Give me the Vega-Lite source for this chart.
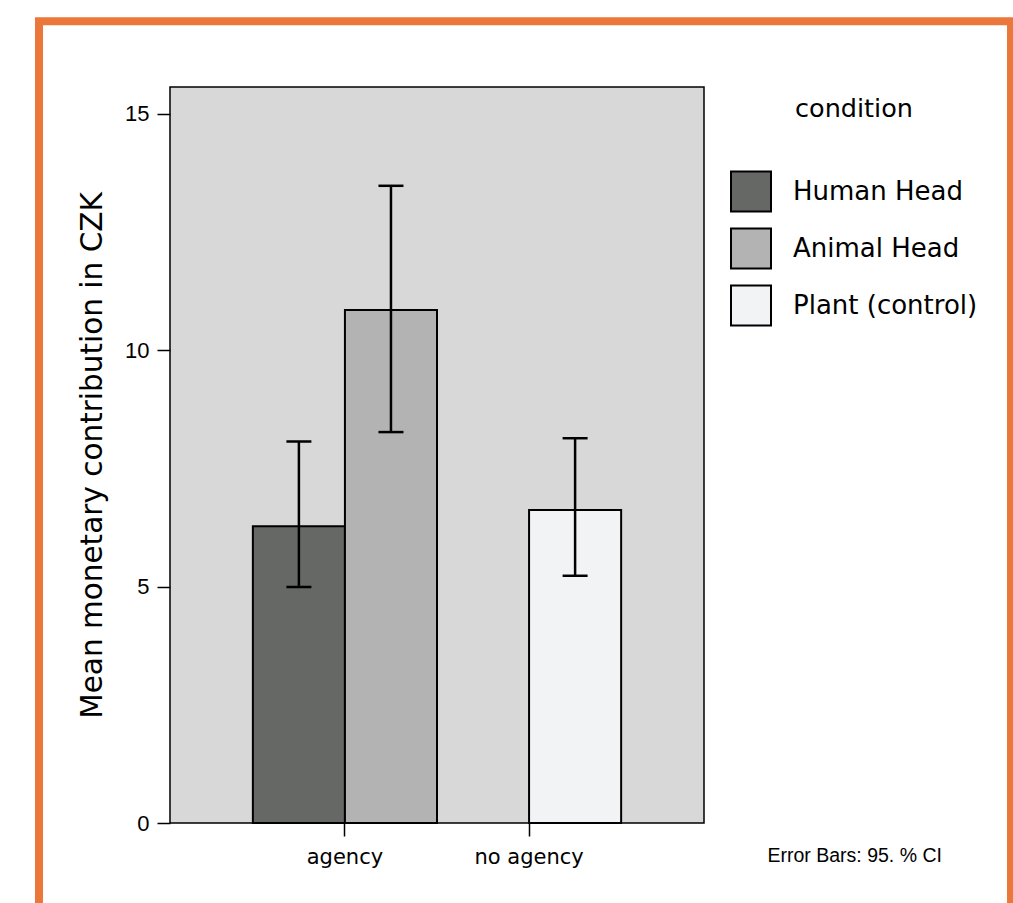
{
  "$schema": "https://vega.github.io/schema/vega-lite/v6.json",
  "width": 534,
  "height": 736,
  "autosize": {"type": "none"},
  "padding": {"left": 170, "top": 87, "right": 309, "bottom": 80},
  "background": "white",
  "config": {
    "view": {"fill": "#d8d8d8", "stroke": "black", "strokeWidth": 1.5},
    "axis": {"domain": false, "grid": false, "tickColor": "black", "tickWidth": 1.5, "tickSize": 13, "labelColor": "black", "titleColor": "black", "titleFontWeight": "normal"},
    "legend": {
      "orient": "right", "offset": 16, "padding": 10,
      "titleFont": "DejaVu Sans", "titleFontSize": 25.5, "titleFontWeight": "normal", "titleColor": "black",
      "titleAnchor": "middle", "titlePadding": 48, "titleLimit": 400,
      "labelFont": "DejaVu Sans", "labelFontSize": 26, "labelColor": "black", "labelOffset": 21, "labelLimit": 400,
      "symbolType": "square", "symbolSize": 1600, "symbolStrokeColor": "black", "symbolStrokeWidth": 2,
      "symbolOpacity": 1, "rowPadding": 9
    }
  },
  "layer": [
    {
      "data": {"values": [{"frame": "border"}]},
      "mark": {"type": "rect", "filled": false, "stroke": "#ec773a", "strokeWidth": 8, "clip": false},
      "encoding": {
        "x": {"datum": -0.2453, "type": "quantitative", "scale": {"domain": [0, 1], "nice": false, "zero": false}, "axis": null},
        "x2": {"datum": 1.5749},
        "y": {"datum": 16.96, "type": "quantitative", "scale": {"domain": [0, 15.57], "nice": false, "zero": false}, "axis": null},
        "y2": {"datum": -2.0}
      }
    },
    {
      "data": {"values": [
        {"agency": "agency", "condition": "Human Head", "mean": 6.28, "lo": 4.99, "hi": 8.07},
        {"agency": "agency", "condition": "Animal Head", "mean": 10.85, "lo": 8.27, "hi": 13.48},
        {"agency": "no agency", "condition": "Plant (control)", "mean": 6.62, "lo": 5.23, "hi": 8.14}
      ]},
      "encoding": {
        "x": {
          "field": "agency", "type": "nominal",
          "scale": {"domain": ["agency", "no agency"], "paddingInner": 0, "paddingOuter": 0.45},
          "axis": {
            "orient": "bottom", "labelFont": "DejaVu Sans", "labelFontSize": 21, "labelPadding": 10, "labelAngle": 0,
            "title": "Error Bars: 95. % CI", "titleFont": "Liberation Sans", "titleFontSize": 19.5,
            "titleAlign": "left", "titleAnchor": "start", "titleX": 597, "titleY": 38, "titleBaseline": "alphabetic"
          }
        },
        "y": {
          "field": "mean", "type": "quantitative",
          "scale": {"domain": [0, 15.57], "nice": false, "zero": false},
          "axis": {
            "orient": "left", "values": [0, 5, 10, 15], "labelFont": "Liberation Sans", "labelFontSize": 22, "labelPadding": 8,
            "title": "Mean monetary contribution in CZK", "titleFont": "DejaVu Sans", "titleFontSize": 29.5, "titlePadding": 17
          }
        }
      },
      "layer": [
        {
          "transform": [{"filter": "datum.agency == 'agency'"}],
          "encoding": {
            "xOffset": {"field": "condition", "type": "nominal", "scale": {"domain": ["Human Head", "Animal Head"], "paddingInner": 0, "paddingOuter": 0}}
          },
          "layer": [
            {
              "mark": {"type": "bar", "stroke": "black", "strokeWidth": 2},
              "encoding": {
                "color": {"field": "condition", "type": "nominal", "title": "condition",
                  "scale": {"domain": ["Human Head", "Animal Head", "Plant (control)"], "range": ["#666866", "#b3b3b3", "#f2f3f5"]}}
              }
            },
            {
              "mark": {"type": "rule", "color": "black", "strokeWidth": 2.5},
              "encoding": {"y": {"field": "lo", "type": "quantitative"}, "y2": {"field": "hi"}}
            },
            {
              "mark": {"type": "tick", "color": "black", "size": 25, "thickness": 2.5, "opacity": 1},
              "encoding": {"y": {"field": "lo", "type": "quantitative"}}
            },
            {
              "mark": {"type": "tick", "color": "black", "size": 25, "thickness": 2.5, "opacity": 1},
              "encoding": {"y": {"field": "hi", "type": "quantitative"}}
            }
          ]
        },
        {
          "transform": [{"filter": "datum.agency == 'no agency'"}],
          "encoding": {
            "xOffset": {"field": "condition", "type": "nominal", "scale": {"domain": ["", "Plant (control)"], "paddingInner": 0, "paddingOuter": 0}}
          },
          "layer": [
            {
              "mark": {"type": "bar", "stroke": "black", "strokeWidth": 2},
              "encoding": {
                "color": {"field": "condition", "type": "nominal", "title": "condition",
                  "scale": {"domain": ["Human Head", "Animal Head", "Plant (control)"], "range": ["#666866", "#b3b3b3", "#f2f3f5"]}}
              }
            },
            {
              "mark": {"type": "rule", "color": "black", "strokeWidth": 2.5},
              "encoding": {"y": {"field": "lo", "type": "quantitative"}, "y2": {"field": "hi"}}
            },
            {
              "mark": {"type": "tick", "color": "black", "size": 25, "thickness": 2.5, "opacity": 1},
              "encoding": {"y": {"field": "lo", "type": "quantitative"}}
            },
            {
              "mark": {"type": "tick", "color": "black", "size": 25, "thickness": 2.5, "opacity": 1},
              "encoding": {"y": {"field": "hi", "type": "quantitative"}}
            }
          ]
        }
      ],
      "resolve": {"scale": {"xOffset": "independent"}}
    }
  ],
  "resolve": {"scale": {"x": "independent", "y": "independent"}}
}
